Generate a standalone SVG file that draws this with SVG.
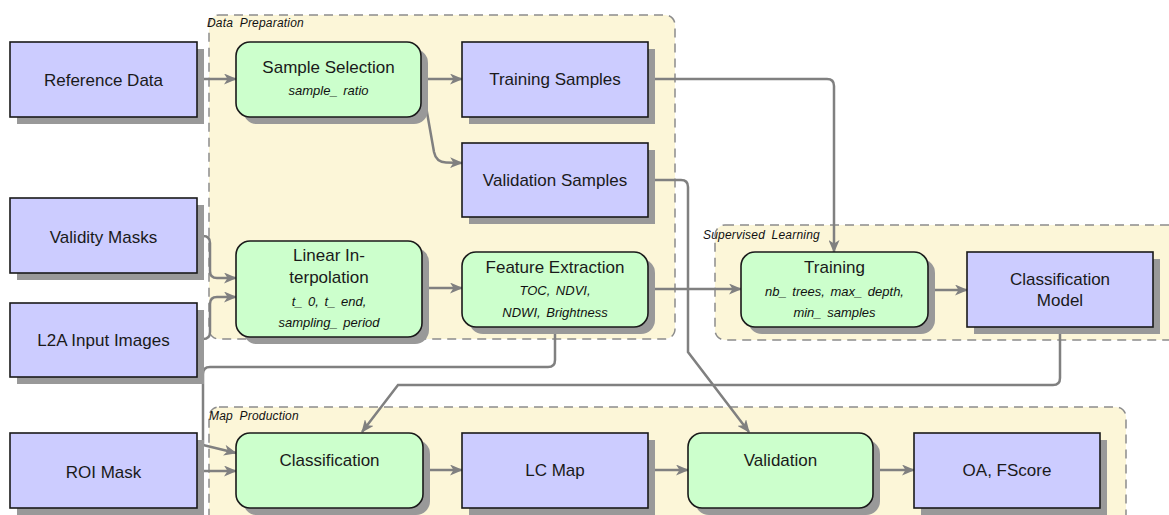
<svg xmlns="http://www.w3.org/2000/svg" width="1169" height="515" viewBox="0 0 1169 515">
<defs>
<style>
.panel{fill:#fcf6d8;stroke:#8c8c8c;stroke-width:1.5;stroke-dasharray:9 6}
.plabel{font-family:"Liberation Sans",Arial,sans-serif;font-style:italic;font-size:12px;fill:#111111;word-spacing:3px;letter-spacing:0.2px}
.blue{fill:#ccccff;stroke:#1a1a1a;stroke-width:1.6}
.green{fill:#ccffcc;stroke:#1a1a1a;stroke-width:1.6}
.shadow{fill:#999999}
.t{font-family:"Liberation Sans",Arial,sans-serif;font-size:17px;fill:#1a1a1a;text-anchor:middle}
.p{font-family:"Liberation Sans",Arial,sans-serif;font-size:13px;font-style:italic;fill:#111111;text-anchor:middle;word-spacing:2px}
.c{fill:none;stroke:#808080;stroke-width:2.5;marker-end:url(#ah)}
</style>
<marker id="ah" markerUnits="userSpaceOnUse" markerWidth="13" markerHeight="11" refX="12" refY="5.5" orient="auto">
<path d="M0,0 L13,5.5 L0,11 L3.5,5.5 z" fill="#808080"/>
</marker>
</defs>
<rect width="1169" height="515" fill="#ffffff"/>

<g id="panels">
<g id="panel-data-preparation">
<rect class="panel" x="209" y="15" width="466" height="324" rx="10"/>
<text class="plabel" x="207" y="27">Data Preparation</text>
</g>
<g id="panel-supervised-learning">
<rect class="panel" x="715" y="225" width="480" height="115" rx="10"/>
<text class="plabel" x="703" y="239">Supervised Learning</text>
</g>
<g id="panel-map-production">
<rect class="panel" x="209" y="407" width="917" height="140" rx="10"/>
<text class="plabel" x="209" y="420">Map Production</text>
</g>
</g>

<g id="connectors">
<path class="c" d="M197 79 H236"/>
<path class="c" d="M421 79 H462"/>
<path class="c" d="M422 84 L434 152 Q436 162 446 162.5 L462 163"/>
<path class="c" d="M648 79 H827 Q834 79 834 86 V252"/>
<path class="c" d="M648 180 H681 Q688 180 688 187 V352 L749 432"/>
<path class="c" d="M197 236 H203 Q210 236 210 243 V271 Q210 278 217 278 H236"/>
<path class="c" d="M197 339 H203 Q210 339 210 332 V304 Q210 297 217 297 H236"/>
<path class="c" d="M422 288 H462"/>
<path class="c" d="M648 289 H741"/>
<path class="c" d="M928 290 H967"/>
<path class="c" d="M555 327 V360 Q555 367 548 367 H210 Q203 367 203 374 V445 L236 453"/>
<path class="c" d="M197 471 H236"/>
<path class="c" d="M1060 327 V378 Q1060 385 1053 385 H398 L362 432"/>
<path class="c" d="M423 470 H462"/>
<path class="c" d="M648 470 H688"/>
<path class="c" d="M873 470 H914"/>
</g>

<g id="reference-data">
<rect class="shadow" x="17" y="49" width="187" height="75"/>
<rect class="blue" x="10" y="42" width="187" height="75"/>
<text class="t" x="103.5" y="86">Reference Data</text>
</g>
<g id="validity-masks">
<rect class="shadow" x="17" y="205" width="187" height="75"/>
<rect class="blue" x="10" y="198" width="187" height="75"/>
<text class="t" x="103.5" y="243">Validity Masks</text>
</g>
<g id="l2a-input-images">
<rect class="shadow" x="17" y="310" width="187" height="74"/>
<rect class="blue" x="10" y="303" width="187" height="74"/>
<text class="t" x="103.5" y="346">L2A Input Images</text>
</g>
<g id="roi-mask">
<rect class="shadow" x="17" y="440" width="187" height="75"/>
<rect class="blue" x="10" y="433" width="187" height="75"/>
<text class="t" x="103.5" y="478">ROI Mask</text>
</g>

<g id="sample-selection">
<rect class="shadow" x="243" y="49" width="185" height="75" rx="14"/>
<rect class="green" x="236" y="42" width="185" height="75" rx="14"/>
<text class="t" x="328.5" y="73">Sample Selection</text>
<text class="p" x="328.5" y="95">sample_ ratio</text>
</g>
<g id="training-samples">
<rect class="shadow" x="469" y="49" width="186" height="75"/>
<rect class="blue" x="462" y="42" width="186" height="75"/>
<text class="t" x="555" y="85">Training Samples</text>
</g>
<g id="validation-samples">
<rect class="shadow" x="469" y="150" width="186" height="74"/>
<rect class="blue" x="462" y="143" width="186" height="74"/>
<text class="t" x="555" y="186">Validation Samples</text>
</g>
<g id="linear-interpolation">
<rect class="shadow" x="243" y="248" width="186" height="96" rx="14"/>
<rect class="green" x="236" y="241" width="186" height="96" rx="14"/>
<text class="t" x="329" y="261">Linear In-</text>
<text class="t" x="329" y="283">terpolation</text>
<text class="p" x="329" y="306">t_ 0, t_ end,</text>
<text class="p" x="329" y="327">sampling_ period</text>
</g>
<g id="feature-extraction">
<rect class="shadow" x="469" y="259" width="186" height="75" rx="14"/>
<rect class="green" x="462" y="252" width="186" height="75" rx="14"/>
<text class="t" x="555" y="273">Feature Extraction</text>
<text class="p" x="555" y="295">TOC, NDVI,</text>
<text class="p" x="555" y="317">NDWI, Brightness</text>
</g>
<g id="training">
<rect class="shadow" x="748" y="259" width="187" height="75" rx="14"/>
<rect class="green" x="741" y="252" width="187" height="75" rx="14"/>
<text class="t" x="834.5" y="273">Training</text>
<text class="p" x="834.5" y="296">nb_ trees, max_ depth,</text>
<text class="p" x="834.5" y="317">min_ samples</text>
</g>
<g id="classification-model">
<rect class="shadow" x="974" y="259" width="186" height="75"/>
<rect class="blue" x="967" y="252" width="186" height="75"/>
<text class="t" x="1060" y="285">Classification</text>
<text class="t" x="1060" y="306">Model</text>
</g>
<g id="classification">
<rect class="shadow" x="243" y="440" width="187" height="75" rx="14"/>
<rect class="green" x="236" y="433" width="187" height="75" rx="14"/>
<text class="t" x="329.5" y="466">Classification</text>
</g>
<g id="lc-map">
<rect class="shadow" x="469" y="440" width="186" height="75"/>
<rect class="blue" x="462" y="433" width="186" height="75"/>
<text class="t" x="555" y="476">LC Map</text>
</g>
<g id="validation">
<rect class="shadow" x="695" y="440" width="185" height="75" rx="14"/>
<rect class="green" x="688" y="433" width="185" height="75" rx="14"/>
<text class="t" x="780.5" y="466">Validation</text>
</g>
<g id="oa-fscore">
<rect class="shadow" x="921" y="440" width="186" height="75"/>
<rect class="blue" x="914" y="433" width="186" height="75"/>
<text class="t" x="1007" y="476">OA, FScore</text>
</g>
</svg>
